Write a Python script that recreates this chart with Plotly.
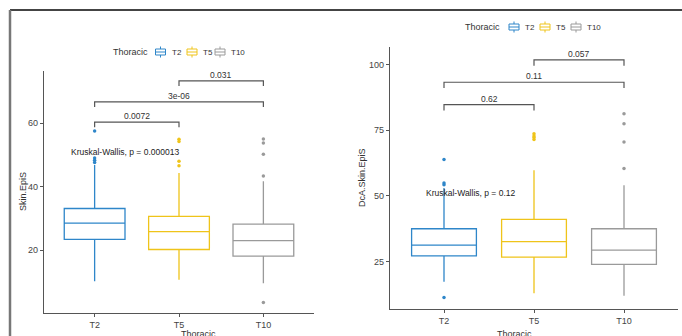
import plotly.graph_objects as go

W, H = 682, 336

groups = ["T2", "T5", "T10"]
colors = ["#2E86C9", "#EFC41A", "#9A9A9A"]

# Left panel: Skin.EpiS
left_q1 = [23.4, 20.2, 18.1]
left_median = [28.5, 25.8, 23.0]
left_q3 = [33.1, 30.6, 28.2]
left_low = [10.2, 10.7, 9.6]
left_high = [46.8, 44.3, 41.7]
left_outliers = [[57.5, 49.0, 48.3, 47.6], [54.9, 54.2, 48.0, 46.6], [55.0, 53.7, 50.2, 43.3, 3.5]]
left_pairs = [(0, 1), (0, 2), (1, 2)]
left_pvals = ["0.0072", "3e-06", "0.031"]
left_bracket_y = [60.3, 66.7, 73.3]
left_kw = "Kruskal-Wallis, p = 0.000013"

# Right panel: DcA.Skin.EpiS
right_q1 = [27.2, 26.7, 24.0]
right_median = [31.3, 32.6, 29.4]
right_q3 = [37.5, 41.1, 37.5]
right_low = [17.4, 13.0, 12.0]
right_high = [53.0, 59.7, 54.0]
right_outliers = [[63.8, 54.9, 54.2, 11.4], [73.6, 72.8, 72.2, 71.4], [81.2, 77.4, 70.5, 60.4]]
right_pairs = [(0, 1), (0, 2), (1, 2)]
right_pvals = ["0.62", "0.11", "0.057"]
right_bracket_y = [84.7, 93.2, 101.7]
right_kw = "Kruskal-Wallis, p = 0.12"

FONT = "Liberation Sans, Arial, sans-serif"
AX = "#555555"
TXT = "#333333"


def px(x):
    return x / W


def py(y):
    return 1 - y / H


fig = go.Figure()

panels = [
    dict(xa="x", ya="y", q1=left_q1, med=left_median, q3=left_q3, lo=left_low, hi=left_high,
         out=left_outliers, pairs=left_pairs, pv=left_pvals, by=left_bracket_y, tip=1.6,
         kw=left_kw, kwx=0.36, kwy=50.9),
    dict(xa="x2", ya="y2", q1=right_q1, med=right_median, q3=right_q3, lo=right_low, hi=right_high,
         out=right_outliers, pairs=right_pairs, pv=right_pvals, by=right_bracket_y, tip=2.2,
         kw=right_kw, kwx=0.29, kwy=51.1),
]

shapes = []
annotations = []

for p in panels:
    for i, g in enumerate(groups):
        fig.add_trace(go.Box(
            x=[g], q1=[p["q1"][i]], median=[p["med"][i]], q3=[p["q3"][i]],
            lowerfence=[p["lo"][i]], upperfence=[p["hi"][i]],
            width=0.72, whiskerwidth=0, fillcolor="rgba(255,255,255,0)",
            line=dict(color=colors[i], width=1.3), boxpoints=False,
            xaxis=p["xa"], yaxis=p["ya"], showlegend=False, name=g, hoverinfo="skip"))
        fig.add_trace(go.Scatter(
            x=[g] * len(p["out"][i]), y=p["out"][i], mode="markers",
            marker=dict(color=colors[i], size=3.5), xaxis=p["xa"], yaxis=p["ya"],
            showlegend=False, hoverinfo="skip"))
    for (a, b), pv, y in zip(p["pairs"], p["pv"], p["by"]):
        shapes.append(dict(type="path", xref=p["xa"], yref=p["ya"],
                           path=f"M {a},{y - p['tip']} L {a},{y} L {b},{y} L {b},{y - p['tip']}",
                           line=dict(color=AX, width=1.2)))
        annotations.append(dict(x=(a + b) / 2, y=y, xref=p["xa"], yref=p["ya"], text=pv,
                                showarrow=False, yanchor="bottom", yshift=-1,
                                font=dict(family=FONT, size=8.5, color=TXT)))
    annotations.append(dict(x=p["kwx"], y=p["kwy"], xref=p["xa"], yref=p["ya"], text=p["kw"],
                            showarrow=False, yanchor="middle",
                            font=dict(family=FONT, size=8.5, color="#222222")))

# axis titles
annotations += [
    dict(x=px(23), y=py(192), xref="paper", yref="paper", text="Skin.EpiS", textangle=-90,
         xanchor="center", yanchor="middle",
         showarrow=False, font=dict(family=FONT, size=9, color=TXT)),
    dict(x=px(362), y=py(178), xref="paper", yref="paper", text="DcA.Skin.EpiS", textangle=-90,
         xanchor="center", yanchor="middle",
         showarrow=False, font=dict(family=FONT, size=9, color=TXT)),
    dict(x=px(179), y=py(327), xref="paper", yref="paper", text="Thoracic", yanchor="top",
         showarrow=False, font=dict(family=FONT, size=9, color=TXT)),
    dict(x=px(534), y=py(327), xref="paper", yref="paper", text="Thoracic", yanchor="top",
         showarrow=False, font=dict(family=FONT, size=9, color=TXT)),
]

# manual legends (ggplot style)
legend_specs = [
    dict(title_right=150, cy=52, icons=[160.5, 192, 220]),
    dict(title_right=502, cy=27, icons=[514, 545, 576]),
]
for spec in legend_specs:
    cy = spec["cy"]
    annotations.append(dict(x=px(spec["title_right"]), y=py(cy), xref="paper", yref="paper",
                            text="Thoracic", xanchor="right", yanchor="middle", showarrow=False,
                            font=dict(family=FONT, size=9, color=TXT)))
    for g, c, cx in zip(groups, colors, spec["icons"]):
        shapes.append(dict(type="rect", xref="paper", yref="paper", x0=px(cx - 5), x1=px(cx + 5),
                           y0=py(cy - 3), y1=py(cy + 3), line=dict(color=c, width=1)))
        shapes.append(dict(type="line", xref="paper", yref="paper", x0=px(cx - 5), x1=px(cx + 5),
                           y0=py(cy), y1=py(cy), line=dict(color=c, width=1)))
        shapes.append(dict(type="line", xref="paper", yref="paper", x0=px(cx), x1=px(cx),
                           y0=py(cy - 5.5), y1=py(cy - 3), line=dict(color=c, width=1)))
        shapes.append(dict(type="line", xref="paper", yref="paper", x0=px(cx), x1=px(cx),
                           y0=py(cy + 3), y1=py(cy + 5.5), line=dict(color=c, width=1)))
        annotations.append(dict(x=px(cx + 9), y=py(cy), xref="paper", yref="paper", text=g,
                                xanchor="left", yanchor="middle", showarrow=False,
                                font=dict(family=FONT, size=8, color=TXT)))

# outer frame lines
shapes.append(dict(type="line", xref="paper", yref="paper", x0=px(10), x1=1, y0=py(10), y1=py(10),
                   line=dict(color="#444444", width=2)))
shapes.append(dict(type="line", xref="paper", yref="paper", x0=px(10), x1=px(10), y0=0, y1=py(10),
                   line=dict(color="#777777", width=2.5)))

axis_common = dict(showline=True, linecolor=AX, linewidth=1.2, ticks="outside", ticklen=3,
                   tickcolor=AX, showgrid=False, zeroline=False,
                   tickfont=dict(family=FONT, size=9, color="#444444"))

fig.update_layout(
    width=W, height=H, margin=dict(l=0, r=0, t=0, b=0),
    paper_bgcolor="white", plot_bgcolor="white", boxmode="overlay", showlegend=False,
    xaxis=dict(domain=[px(44), px(314)], anchor="y", type="category", categoryorder="array",
               categoryarray=groups, range=[-0.6, 2.6], **axis_common),
    yaxis=dict(domain=[py(313), py(71)], anchor="x", range=[0.2, 76.4],
               tickvals=[20, 40, 60], **axis_common),
    xaxis2=dict(domain=[px(390), px(678)], anchor="y2", type="category", categoryorder="array",
                categoryarray=groups, range=[-0.6, 2.6], **axis_common),
    yaxis2=dict(domain=[py(309), py(47)], anchor="x2", range=[7.0, 106.6],
                tickvals=[25, 50, 75, 100], **axis_common),
    shapes=shapes, annotations=annotations,
)

fig.write_html("out.html", config={"displayModeBar": False},
               post_script="document.body.style.margin='0';document.body.style.overflow='hidden';")
